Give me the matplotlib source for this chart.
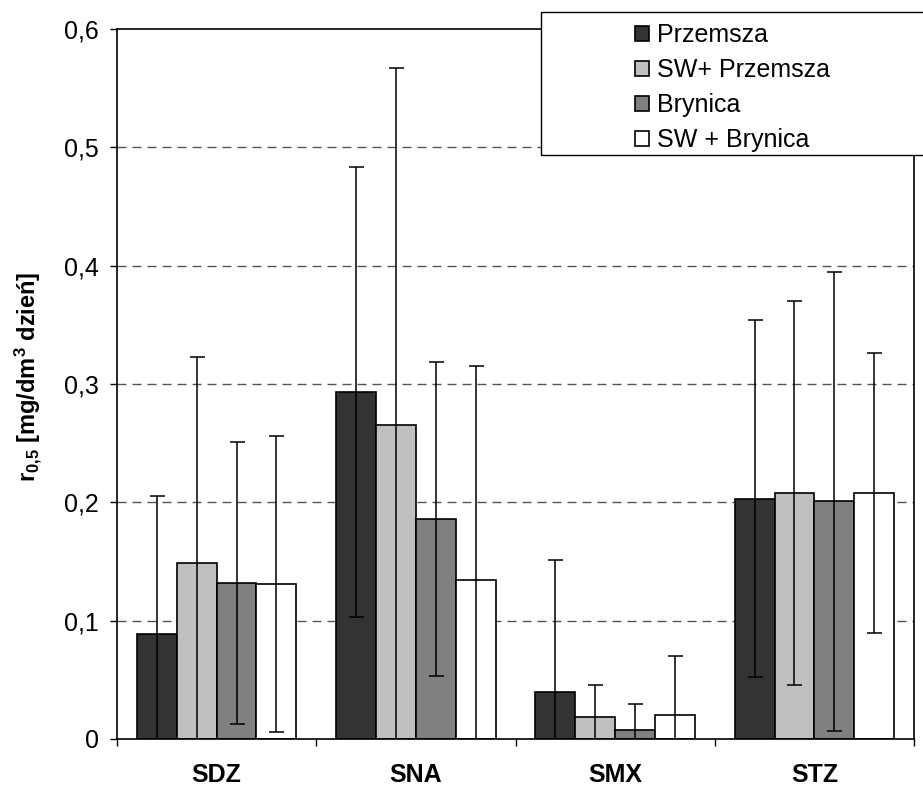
import numpy as np
import matplotlib
matplotlib.use('Agg')
import matplotlib.pyplot as plt
from matplotlib.patches import Rectangle

plt.rcParams['font.family'] = ['Liberation Sans', 'DejaVu Sans']
plt.rcParams['mathtext.fontset'] = 'custom'
plt.rcParams['mathtext.rm'] = 'Liberation Sans:bold'
plt.rcParams['mathtext.default'] = 'rm'

categories = ['SDZ', 'SNA', 'SMX', 'STZ']
series = ['Przemsza', 'SW+ Przemsza', 'Brynica', 'SW + Brynica']
przemsza = [0.089, 0.293, 0.040, 0.203]
sw_przemsza = [0.149, 0.265, 0.019, 0.208]
brynica = [0.132, 0.186, 0.008, 0.201]
sw_brynica = [0.131, 0.134, 0.020, 0.208]
err_przemsza = [0.116, 0.190, 0.111, 0.151]
err_sw_przemsza = [0.174, 0.302, 0.027, 0.162]
err_brynica = [0.119, 0.133, 0.022, 0.194]
err_sw_brynica = [0.125, 0.181, 0.050, 0.118]
yticks = [0, 0.1, 0.2, 0.3, 0.4, 0.5, 0.6]
ytick_labels = ['0', '0,1', '0,2', '0,3', '0,4', '0,5', '0,6']

values = [przemsza, sw_przemsza, brynica, sw_brynica]
errors = [err_przemsza, err_sw_przemsza, err_brynica, err_sw_brynica]
colors = ['#333333', '#c0c0c0', '#808080', '#ffffff']


def main():
    fig = plt.figure(figsize=(9.23, 7.89), dpi=100)
    ax = fig.add_axes([117 / 923, 1 - 739 / 789, (914 - 117) / 923, (739 - 29) / 789])

    x = np.arange(len(categories))
    width = 0.2
    offsets = [-0.3, -0.1, 0.1, 0.3]
    for vals, errs, col, off, name in zip(values, errors, colors, offsets, series):
        ax.bar(x + off, vals, width, color=col, edgecolor='black', linewidth=1.2,
               label=name, zorder=2)
        ax.errorbar(x + off, vals, yerr=errs, fmt='none', ecolor='black',
                    elinewidth=1.1, capsize=5.4, capthick=1.1, zorder=3)

    ax.set_xlim(-0.5, len(categories) - 0.5)
    ax.set_ylim(0, 0.6)
    ax.set_yticks(yticks)
    ax.set_yticklabels(ytick_labels, fontsize=18)
    ax.tick_params(axis='y', direction='out', length=5, width=1, pad=8)

    ax.set_xticks(np.arange(len(categories) + 1) - 0.5)
    ax.set_xticklabels([])
    ax.tick_params(axis='x', which='major', direction='out', length=5, width=1)
    ax.set_xticks(x, minor=True)
    ax.set_xticklabels(categories, minor=True, fontsize=18, fontweight='bold')
    ax.tick_params(axis='x', which='minor', length=0, pad=17)

    for y in yticks[1:-1]:
        ax.axhline(y, color='#555555', linewidth=1.0, linestyle=(0, (6.5, 4.3)), zorder=1)

    for sp in ax.spines.values():
        sp.set_linewidth(1.2)
        sp.set_color('black')

    ax.set_ylabel(r'r$_{0{,}5}$ [mg/dm$^3$ dzień]', fontsize=17, fontweight='bold')
    ax.yaxis.set_label_coords(-0.092, 0.51)

    box = Rectangle((541 / 923, 1 - 155 / 789), 0.5, 143 / 789, transform=fig.transFigure,
                    facecolor='white', edgecolor='black', linewidth=1.0, zorder=5)
    fig.patches.append(box)
    leg = fig.legend(loc='upper left', bbox_to_anchor=(615 / 923, 1 - 3 / 789),
                     frameon=False, fontsize=18, handlelength=0.56, handleheight=0.56,
                     handletextpad=0.32, labelspacing=0.44, borderpad=0.3)
    leg.set_zorder(6)

    fig.savefig('out.png', dpi=100)


if __name__ == "__main__":
    main()
